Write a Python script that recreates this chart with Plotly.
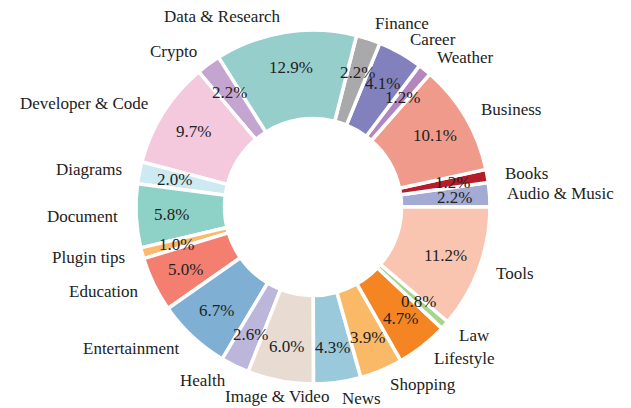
import math
import plotly.graph_objects as go

# ---- data (counter-clockwise from 3 o'clock) ----
categories = ["Audio & Music", "Books", "Business", "Weather", "Career", "Finance",
              "Data & Research", "Crypto", "Developer & Code", "Diagrams", "Document",
              "Plugin tips", "Education", "Entertainment", "Health", "Image & Video",
              "News", "Shopping", "Lifestyle", "Law", "Tools"]
shares = [2.2, 1.2, 10.1, 1.2, 4.1, 2.2, 12.9, 2.2, 9.7, 2.0, 5.8,
          1.0, 5.0, 6.7, 2.6, 6.0, 4.3, 3.9, 4.7, 0.8, 11.2]
colors = ["#a3aad3", "#b71c2a", "#ef9a8b", "#b386c0", "#8280bd", "#a9a9ac",
          "#96cecb", "#c3a5cf", "#f4c9de", "#cdeaf2", "#8ed1c6",
          "#fdb96b", "#f47f71", "#7fb0d3", "#bcb6db", "#e8dbd2",
          "#9bc9dc", "#fab967", "#f58423", "#a8d58c", "#fac5b0"]
label_align_override = {"Image & Video": "center"}

# ---- layout geometry ----
W, H = 631, 408
CX, CY = 313, 207          # pie centre in pixels (from top-left)
R = 177                    # outer radius in pixels
HOLE = 0.50
PCT_R = 0.80 * R
LAB_R = 1.09 * R
FONT = "Liberation Serif, Times New Roman, DejaVu Serif, serif"
TXT = "#222222"

total = sum(shares)
# plotly places the first ccw slice ending at `rotation`; shift so it starts at 3 o'clock
rotation = 90 - 360 * shares[0] / total

fig = go.Figure(go.Pie(
    labels=categories, values=shares, sort=False,
    direction="counterclockwise", rotation=rotation, hole=HOLE,
    textinfo="none", hoverinfo="label+percent",
    marker=dict(colors=colors, line=dict(color="white", width=3.5)),
    domain=dict(x=[(CX - R) / W, (CX + R) / W],
                y=[(H - CY - R) / H, (H - CY + R) / H]),
    showlegend=False,
))

annotations = []
cum = 0.0
for name, v in zip(categories, shares):
    mid = (cum + v / 2) / total * 2 * math.pi
    cum += v
    c, s = math.cos(mid), math.sin(mid)
    px, py = CX + PCT_R * c, CY - PCT_R * s
    annotations.append(dict(x=px / W, y=1 - py / H, xref="paper", yref="paper",
                            text=f"{v / total * 100:.1f}%", showarrow=False,
                            xanchor="center", yanchor="middle",
                            font=dict(family=FONT, size=17, color=TXT)))
    lx, ly = CX + LAB_R * c, CY - LAB_R * s
    align = label_align_override.get(name, "left" if c > 0 else "right")
    annotations.append(dict(x=lx / W, y=1 - ly / H, xref="paper", yref="paper",
                            text=name, showarrow=False,
                            xanchor=align, yanchor="middle",
                            font=dict(family=FONT, size=17, color=TXT)))

fig.update_layout(width=W, height=H, margin=dict(l=0, r=0, t=0, b=0),
                  paper_bgcolor="white", plot_bgcolor="white",
                  font=dict(family=FONT, color=TXT),
                  annotations=annotations)

fig.write_html("out.html", config={"displayModeBar": False},
               post_script="document.body.style.margin='0';document.body.style.padding='0';")
